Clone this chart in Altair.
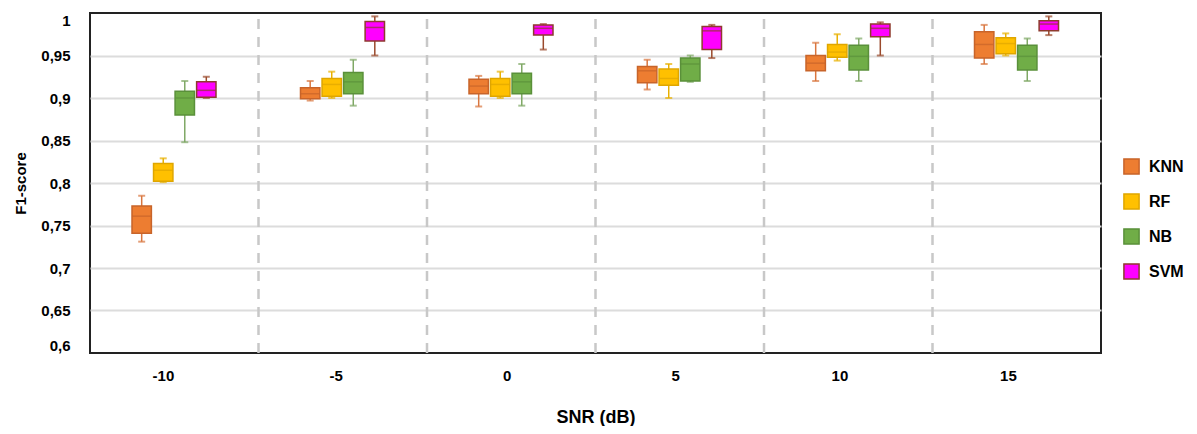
import altair as alt
import pandas as pd

snr_levels = ["-10", "-5", "0", "5", "10", "15"]
models = ["KNN", "RF", "NB", "SVM"]
fill_colors = ["#ED7D31", "#FFC000", "#70AD47", "#FF00FF"]
stroke_colors = ["#C8642A", "#DFA600", "#5A903A", "#8E3B2E"]
whisker_colors = ["#D9763F", "#E8B000", "#7FA865", "#9A4A2C"]

# per model: values for SNR -10, -5, 0, 5, 10, 15
knn_lo  = [0.731, 0.897, 0.890, 0.910, 0.920, 0.940]
knn_q1  = [0.741, 0.899, 0.905, 0.918, 0.932, 0.947]
knn_med = [0.761, 0.905, 0.914, 0.932, 0.941, 0.963]
knn_q3  = [0.773, 0.912, 0.922, 0.937, 0.950, 0.978]
knn_hi  = [0.785, 0.920, 0.926, 0.945, 0.965, 0.986]

rf_lo  = [0.801, 0.900, 0.900, 0.900, 0.944, 0.950]
rf_q1  = [0.802, 0.902, 0.902, 0.915, 0.948, 0.952]
rf_med = [0.815, 0.916, 0.916, 0.923, 0.954, 0.964]
rf_q3  = [0.823, 0.923, 0.923, 0.934, 0.963, 0.971]
rf_hi  = [0.829, 0.931, 0.931, 0.940, 0.975, 0.976]

nb_lo  = [0.848, 0.891, 0.891, 0.919, 0.920, 0.920]
nb_q1  = [0.880, 0.905, 0.905, 0.920, 0.933, 0.933]
nb_med = [0.900, 0.919, 0.919, 0.940, 0.949, 0.949]
nb_q3  = [0.908, 0.930, 0.929, 0.947, 0.962, 0.962]
nb_hi  = [0.920, 0.945, 0.940, 0.950, 0.970, 0.970]

svm_lo  = [0.900, 0.950, 0.957, 0.947, 0.950, 0.974]
svm_q1  = [0.901, 0.967, 0.974, 0.957, 0.972, 0.979]
svm_med = [0.909, 0.983, 0.982, 0.979, 0.982, 0.987]
svm_q3  = [0.919, 0.990, 0.986, 0.984, 0.987, 0.991]
svm_hi  = [0.925, 0.996, 0.987, 0.986, 0.989, 0.996]

y_ticks = [0.6, 0.65, 0.7, 0.75, 0.8, 0.85, 0.9, 0.95, 1.0]

stats = {
    "KNN": (knn_lo, knn_q1, knn_med, knn_q3, knn_hi),
    "RF": (rf_lo, rf_q1, rf_med, rf_q3, rf_hi),
    "NB": (nb_lo, nb_q1, nb_med, nb_q3, nb_hi),
    "SVM": (svm_lo, svm_q1, svm_med, svm_q3, svm_hi),
}
rows = []
for m in models:
    lo, q1, med, q3, hi = stats[m]
    for i, s in enumerate(snr_levels):
        rows.append(dict(snr=s, model=m, lo=lo[i], q1=q1[i], med=med[i], q3=q3[i], hi=hi[i]))
df = pd.DataFrame(rows)
div_df = pd.DataFrame({"snr": snr_levels[1:]})

FONT = "Liberation Sans"

x_enc = alt.X("snr:N", sort=snr_levels,
              scale=alt.Scale(domain=snr_levels, paddingInner=0, paddingOuter=0),
              axis=alt.Axis(title="SNR (dB)", labelAngle=0, ticks=False, domain=False,
                            labelFontSize=15, labelFontWeight="bold", labelPadding=22,
                            titleFontSize=18, titleFontWeight="bold", titlePadding=25,
                            labelColor="#000", titleColor="#000"))
xoff = alt.XOffset("model:N", sort=models,
                   scale=alt.Scale(domain=models, range=[42, 126], paddingInner=0.1))
y_scale = alt.Scale(domain=[0.6, 1.0], nice=False, zero=False)
y_axis = alt.Axis(title="F1-score", values=y_ticks, ticks=False, domain=False,
                  grid=True,
                  gridColor={"condition": {"test": "datum.value <= 0.6001 || datum.value >= 0.9999",
                                           "value": None},
                             "value": "#dcdcdc"},
                  gridWidth=2, labelFlush=True,
                  labelExpr="replace(format(datum.value, '.2~f'), '.', ',')",
                  labelFontSize=15, labelFontWeight="bold", labelPadding=20,
                  titleFontSize=15, titleFontWeight="bold", titlePadding=12,
                  labelColor="#000", titleColor="#000")

base = alt.Chart(df)

dividers = alt.Chart(div_df).mark_rule(color="#c8c8c8", strokeWidth=2.5, strokeDash=[10, 8]).encode(
    x=alt.X("snr:N", sort=snr_levels, bandPosition=0),
    y=alt.datum(0.6, scale=y_scale, axis=y_axis),
    y2=alt.datum(1.0),
)

whisk = base.mark_rule(strokeWidth=1.5).encode(
    x=x_enc, xOffset=xoff,
    y=alt.Y("lo:Q", scale=y_scale, axis=y_axis),
    y2="hi:Q",
    color=alt.Color("model:N", scale=alt.Scale(domain=models, range=whisker_colors), legend=None),
)
cap_lo = base.mark_tick(orient="horizontal", size=7, thickness=2).encode(
    x=x_enc, xOffset=xoff, y=alt.Y("lo:Q", scale=y_scale),
    color=alt.Color("model:N", scale=alt.Scale(domain=models, range=whisker_colors), legend=None),
)
cap_hi = base.mark_tick(orient="horizontal", size=7, thickness=2).encode(
    x=x_enc, xOffset=xoff, y=alt.Y("hi:Q", scale=y_scale),
    color=alt.Color("model:N", scale=alt.Scale(domain=models, range=whisker_colors), legend=None),
)
leg = alt.Legend(title=None, orient="none", legendX=1033, legendY=145,
                 symbolType="square", symbolSize=230, symbolStrokeWidth=1.5,
                 labelFontSize=16, labelFontWeight="bold", labelColor="#000",
                 rowPadding=12, labelOffset=9)
box = base.mark_bar(strokeWidth=1.5).encode(
    x=x_enc, xOffset=xoff,
    y=alt.Y("q1:Q", scale=y_scale),
    y2="q3:Q",
    fill=alt.Fill("model:N", sort=models, scale=alt.Scale(domain=models, range=fill_colors), legend=leg),
    stroke=alt.Stroke("model:N", sort=models, scale=alt.Scale(domain=models, range=stroke_colors), legend=leg),
)
median = base.mark_tick(orient="horizontal", size=19, thickness=1.5).encode(
    x=x_enc, xOffset=xoff, y=alt.Y("med:Q", scale=y_scale),
    color=alt.Color("model:N", scale=alt.Scale(domain=models, range=stroke_colors), legend=None),
)

chart = alt.layer(dividers, whisk, cap_lo, cap_hi, box, median).resolve_scale(
    color="independent"
).properties(
    width=1011, height=340,
    autosize=alt.AutoSizeParams(type="none"),
    padding={"left": 82, "top": 5, "right": 88, "bottom": 73},
).configure(font=FONT).configure_view(
    stroke="#222", strokeWidth=2
)

chart.save("out.html", embed_options={"renderer": "svg", "actions": False})
